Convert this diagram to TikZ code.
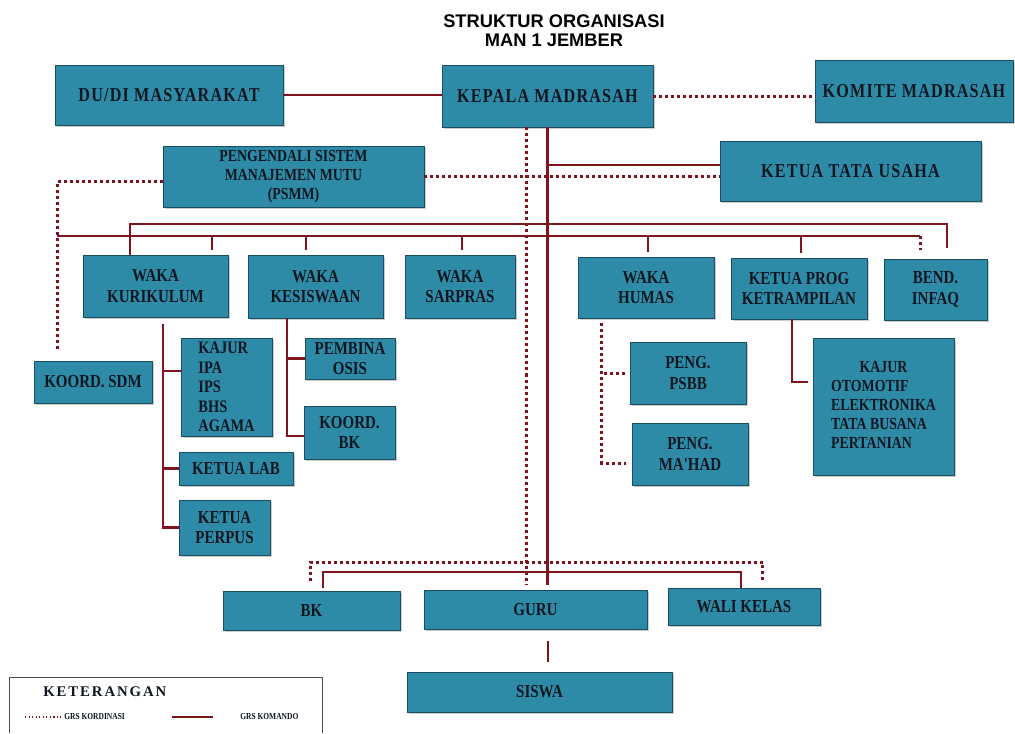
\documentclass[tikz,border=0pt]{standalone}
\usepackage{fontspec}
\setmainfont{Liberation Serif}
\newfontfamily\boxfont[FakeStretch=0.82]{Liberation Serif}
\newfontfamily\topfont[FakeStretch=0.82,LetterSpace=6]{Liberation Serif}
\newfontfamily\legfont[LetterSpace=13]{Liberation Serif}
\newfontfamily\titlefont{Liberation Sans}
\usetikzlibrary{positioning}
\usetikzlibrary{shadows}
\definecolor{boxTeal}{RGB}{46,139,167}
\definecolor{boxEdge}{RGB}{28,78,98}
\definecolor{boxText}{RGB}{14,22,32}
\definecolor{lineRed}{RGB}{128,20,28}
\tikzset{
	unitBox/.style={rectangle, draw=boxEdge, line width=0.6pt, fill=boxTeal, text=boxText, inner sep=0pt, drop shadow={shadow xshift=1.2pt, shadow yshift=-1.2pt, opacity=0.4}, font=\boxfont\bfseries\fontsize{13}{14.5}\selectfont, align=center},
	topBox/.style={unitBox, font=\topfont\bfseries\fontsize{14}{16}\selectfont},
	sz/.style 2 args={minimum width=#1*0.025cm, minimum height=#2*0.025cm},
	cmdLine/.style={draw=lineRed, line width=1.6pt},
	crdLine/.style={draw=lineRed, line width=2.134pt, dash pattern=on 2.134pt off 2.134pt},
	keyText/.style={font=\boxfont\bfseries\fontsize{6.5}{7}\selectfont, text=boxText, inner sep=0pt, anchor=west}
}

\begin{document}
\begin{tikzpicture}[x=0.025cm, y=-0.025cm]
	\useasboundingbox (0,0) rectangle (1015,733);
	\node[font=\titlefont\bfseries\fontsize{13}{13.5}\selectfont, align=center](titleLabel) at (554,31){STRUKTUR ORGANISASI\\MAN 1 JEMBER};

	\node[topBox, sz={228}{60}](dudiBox) at (169,95){DU/DI MASYARAKAT};
	\node[topBox, sz={211}{62}](kepalaBox) at (547.5,96){KEPALA MADRASAH};
	\node[topBox, sz={198}{62}](komiteBox) at (914,91){KOMITE MADRASAH};
	\node[unitBox, sz={261}{61}, font=\boxfont\bfseries\fontsize{12}{13.5}\selectfont](psmmBox) at (293.5,176.5){PENGENDALI SISTEM\\MANAJEMEN MUTU\\(PSMM)};
	\node[topBox, sz={261}{60}](tuBox) at (850.5,171){KETUA TATA USAHA};

	\node[unitBox, sz={145}{62}](kurBox) at (155.5,286){WAKA\\KURIKULUM};
	\node[unitBox, sz={135}{63}](kesBox) at (315.5,286.5){WAKA\\KESISWAAN};
	\node[unitBox, sz={110}{63}](sarprasBox) at (460,286.5){WAKA\\SARPRAS};
	\node[unitBox, sz={136}{61}](humasBox) at (646,287.5){WAKA\\HUMAS};
	\node[unitBox, sz={136}{61}](progBox) at (799,288.5){KETUA PROG\\KETRAMPILAN};
	\node[unitBox, sz={103}{61}](bendBox) at (935.5,289.5){BEND.\\INFAQ};

	\node[unitBox, sz={118}{42}](sdmBox) at (93,382){KOORD. SDM};
	\node[unitBox, sz={91}{98}, align=left, font=\boxfont\bfseries\fontsize{12.5}{13.8}\selectfont](kajurBox) at (226.5,387){KAJUR\\IPA\\IPS\\BHS\\AGAMA};
	\node[unitBox, sz={114}{33}](labBox) at (236,468.5){KETUA LAB};
	\node[unitBox, sz={91}{55}](perpusBox) at (224.5,527.5){KETUA\\PERPUS};
	\node[unitBox, sz={90}{41}](osisBox) at (350,358.5){PEMBINA\\OSIS};
	\node[unitBox, sz={91}{53}](koordBkBox) at (349.5,432.5){KOORD.\\BK};
	\node[unitBox, sz={116}{62}](psbbBox) at (688,373){PENG.\\PSBB};
	\node[unitBox, sz={116}{62}](mahadBox) at (690,454){PENG.\\MA'HAD};
	\node[unitBox, sz={141}{137}, font=\boxfont\bfseries\fontsize{12}{13.5}\selectfont](kajurProgBox) at (883.5,406.5){\begin{tabular}{@{}l@{}}\multicolumn{1}{@{}c@{}}{KAJUR}\\OTOMOTIF\\ELEKTRONIKA\\TATA BUSANA\\PERTANIAN\end{tabular}};

	\node[unitBox, sz={177}{39}](bkBox) at (311.5,610.5){BK};
	\node[unitBox, sz={223}{39}](guruBox) at (535.5,609.5){GURU};
	\node[unitBox, sz={152}{37}](waliBox) at (744,606.5){WALI KELAS};
	\node[unitBox, sz={265}{40}](siswaBox) at (539.5,692){SISWA};

	\coordinate (barTop) at (0,224);
	\coordinate (barLow) at (0,236);
	\coordinate (barCrd) at (0,562);
	\coordinate (barCmd) at (0,572);

	\draw[cmdLine] (dudiBox.east) -- (dudiBox.east -| kepalaBox.west);
	\draw[cmdLine, shorten >=3.5pt] (kepalaBox.south) -- (kepalaBox.south |- guruBox.north);
	\coordinate (tuTap) at ([yshift=4.3pt]tuBox.west);
	\draw[cmdLine] (tuTap) -- (tuTap -| kepalaBox.south);
	\coordinate (kurDrop) at ([xshift=-18.1pt]kurBox.north);
	\coordinate (bendDrop) at ([xshift=8.2pt,yshift=7.8pt]bendBox.north);
	\draw[cmdLine] (kurDrop) -- (kurDrop |- barTop) -| (bendDrop);
	\coordinate (sdmDrop) at ([xshift=-25.6pt,yshift=7.8pt]sdmBox.north);
	\coordinate (bendCrd) at ([xshift=-11pt,yshift=6pt]bendBox.north);
	\draw[cmdLine] (sdmDrop |- barLow) -- (bendCrd |- barLow);
	\foreach \boxName/\dx in {kurBox/40.2pt, kesBox/-6.8pt, sarprasBox/1.4pt, humasBox/1.4pt, progBox/1.4pt}{
		\coordinate (tick) at ([xshift=\dx]\boxName.north);
		\draw[cmdLine, shorten >=3.5pt] (tick |- barLow) -- (tick);
	}

	\coordinate (kurTrunk) at ([xshift=5.3pt,yshift=-5pt]kurBox.south);
	\coordinate (kajurTap) at ([yshift=11.4pt]kajurBox.west);
	\draw[cmdLine] (kurTrunk) |- (perpusBox.west);
	\draw[cmdLine] (kajurTap) -- (kajurTap -| kurTrunk);
	\draw[cmdLine] (labBox.west) -- (labBox.west -| kurTrunk);
	\coordinate (kesTrunk) at ([xshift=-20.3pt]kesBox.south);
	\coordinate (koordBkTap) at ([yshift=-2.5pt]koordBkBox.west);
	\draw[cmdLine] (kesTrunk) |- (koordBkTap);
	\draw[cmdLine] (osisBox.west) -- (osisBox.west -| kesTrunk);
	\coordinate (progTrunk) at ([xshift=-5pt]progBox.south);
	\coordinate (kajurProgTap) at ([xshift=-3.5pt,yshift=17.4pt]kajurProgBox.west);
	\draw[cmdLine] (progTrunk) |- (kajurProgTap);

	\coordinate (bkDrop) at ([xshift=8.2pt,yshift=2pt]bkBox.north);
	\coordinate (waliDrop) at ([xshift=-2pt]waliBox.north);
	\draw[cmdLine] (bkDrop) -- (bkDrop |- barCmd) -| (waliDrop);
	\coordinate (siswaTick) at ([xshift=9pt]guruBox.south);
	\draw[cmdLine, shorten <=8.5pt, shorten >=7pt] (siswaTick) -- (siswaTick |- siswaBox.north);

	\draw[crdLine] (kepalaBox.east) -- (kepalaBox.east -| komiteBox.west);
	\coordinate (crdSpine) at ([xshift=-14.6pt]kepalaBox.south);
	\draw[crdLine, shorten >=4pt] (crdSpine) -- (crdSpine |- guruBox.north);
	\draw[crdLine] (psmmBox.east) -- (psmmBox.east -| tuBox.west);
	\coordinate (psmmTap) at ([yshift=-3.9pt]psmmBox.west);
	\draw[crdLine] (psmmTap) -| (sdmDrop);
	\draw[crdLine] (bendCrd |- barLow) -- (bendCrd);
	\coordinate (humasTrunk) at ([xshift=-31.3pt,yshift=-3.5pt]humasBox.south);
	\coordinate (mahadTap) at ([xshift=-4pt,yshift=-6.4pt]mahadBox.west);
	\coordinate (psbbTap) at ([xshift=-3pt]psbbBox.west);
	\draw[crdLine] (humasTrunk) |- (mahadTap);
	\draw[crdLine] (psbbTap) -- (psbbTap -| humasTrunk);
	\coordinate (bkCrd) at ([xshift=-0.7pt,yshift=7pt]bkBox.north);
	\coordinate (waliCrd) at ([xshift=13.5pt,yshift=5pt]waliBox.north);
	\draw[crdLine] (bkCrd) -- (bkCrd |- barCrd) -| (waliCrd);

	\draw[line width=0.6pt, draw=black!70] (9,733) |- (322,677) -- (322,733);
	\node[font=\legfont\bfseries\fontsize{10.5}{12}\selectfont, text=boxText, inner sep=0pt, anchor=west](legendTitle) at (43,692){KETERANGAN};
	\node[keyText](crdKeyLabel) at (64,717){GRS KORDINASI};
	\node[keyText](cmdKeyLabel) at (240,717){GRS KOMANDO};
	\coordinate (crdKeyStart) at (25,717);
	\coordinate (cmdKeyStart) at (172,717);
	\draw[draw=lineRed, line width=1pt, dash pattern=on 1pt off 1.5pt] (crdKeyStart) -- ([xshift=-2.5pt]crdKeyLabel.west);
	\draw[draw=lineRed, line width=1.2pt] (cmdKeyStart) -- ([xshift=-19pt]cmdKeyLabel.west);
\end{tikzpicture}
\end{document}
